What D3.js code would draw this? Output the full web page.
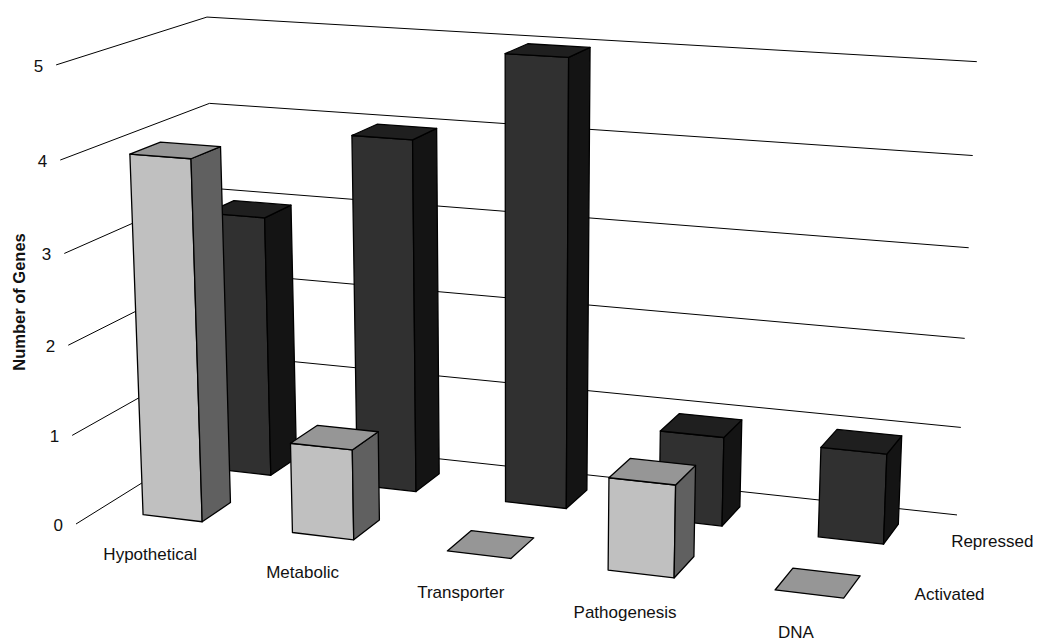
<!DOCTYPE html>
<html>
<head>
<meta charset="utf-8">
<script src="https://cdn.jsdelivr.net/npm/d3@7"></script>
<style>
  html, body { margin: 0; background: #fff; }
  svg { display: block; }
  text { font-family: "Liberation Sans", Arial, sans-serif; fill: #111; }
</style>
</head>
<body>
<svg id="chart" width="1039" height="641"></svg>
<script>
const categories = ["Hypothetical", "Metabolic", "Transporter", "Pathogenesis", "DNA"];
const seriesNames = ["Activated", "Repressed"];
const activated = [4, 1, 0, 1, 0];
const repressed = [3, 4, 5, 1, 1];
const valueTicks = [0, 1, 2, 3, 4, 5];

const seriesColors = {
  Activated: { front: "#c0c0c0", top: "#969696", side: "#606060" },
  Repressed: { front: "#303030", top: "#1f1f1f", side: "#141414" }
};

// Unit-cube coordinates along the three chart axes.
const uScale = d3.scaleBand().domain(categories).range([0, 1]).paddingInner(0.6).paddingOuter(0.3);
const dScale = d3.scaleBand().domain(seriesNames).range([0, 1]).paddingInner(0.6).paddingOuter(0.3);
const hScale = d3.scaleLinear().domain([0, 5]).range([0, 1]);

// Homogeneous camera: each row gives constant, u, depth and height terms.
const camX = [76, 727.9, 165.7, -22.3];
const camY = [524, 41.7, -44, -461.9];
const camW = [1, -0.0904, 0.10355, -0.04337];

function project(u, d, h) {
  const dot = r => r[0] + r[1] * u + r[2] * d + r[3] * h;
  const w = dot(camW);
  return [dot(camX) / w, dot(camY) / w];
}

const svg = d3.select("#chart");
const line = d3.line();
const closed = pts => line(pts) + "Z";

// Gridlines run along the left wall and then across the back wall.
svg.append("g").selectAll("path").data(valueTicks).join("path")
  .attr("fill", "none").attr("stroke", "#000").attr("stroke-width", 1)
  .attr("d", v => {
    const h = hScale(v);
    return line([project(0, 0, h), project(0, 1, h), project(1, 1, h)]);
  });

// Value tick labels sit just left of each gridline's front end.
svg.append("g").selectAll("text").data(valueTicks).join("text")
  .attr("text-anchor", "end").attr("font-size", 17)
  .attr("x", v => project(0, 0, hScale(v))[0] - 13)
  .attr("y", v => project(0, 0, hScale(v))[1] + 7)
  .text(v => v);

// Bars: the rear series is painted first so the front one overlaps it.
const rows = [
  { name: "Repressed", values: repressed },
  { name: "Activated", values: activated }
];
rows.forEach(row => {
  const colors = seriesColors[row.name];
  const d0 = dScale(row.name), d1 = d0 + dScale.bandwidth();
  const g = svg.append("g");
  categories.forEach((cat, i) => {
    const u0 = uScale(cat), u1 = u0 + uScale.bandwidth();
    const h = hScale(row.values[i]);
    const faces = [
      { fill: colors.front, pts: [[u0, d0, 0], [u1, d0, 0], [u1, d0, h], [u0, d0, h]] },
      { fill: colors.side, pts: [[u1, d0, 0], [u1, d1, 0], [u1, d1, h], [u1, d0, h]] },
      { fill: colors.top, pts: [[u0, d0, h], [u1, d0, h], [u1, d1, h], [u0, d1, h]] }
    ];
    faces.filter(f => h > 0 || f.fill === colors.top).forEach(f => {
      g.append("path")
        .attr("d", closed(f.pts.map(p => project(p[0], p[1], p[2]))))
        .attr("fill", f.fill)
        .attr("stroke", "#000")
        .attr("stroke-width", 1.3)
        .attr("stroke-linejoin", "round");
    });
  });
});

// Category names follow the front floor edge.
svg.append("g").selectAll("text").data(categories).join("text")
  .attr("text-anchor", "middle").attr("font-size", 17)
  .attr("x", c => project(uScale(c) + uScale.bandwidth() / 2, 0, 0)[0])
  .attr("y", c => project(uScale(c) + uScale.bandwidth() / 2, 0, 0)[1] + 27)
  .text(c => c);

// Series names follow the right floor edge.
svg.append("g").selectAll("text").data(seriesNames).join("text")
  .attr("text-anchor", "start").attr("font-size", 17)
  .attr("x", s => project(1, dScale(s) + dScale.bandwidth() / 2, 0)[0] + 11)
  .attr("y", s => project(1, dScale(s) + dScale.bandwidth() / 2, 0)[1] + 7)
  .text(s => s);

svg.append("text")
  .attr("transform", "translate(25,302) rotate(-90)")
  .attr("text-anchor", "middle")
  .attr("font-size", 16.5)
  .attr("font-weight", "bold")
  .text("Number of Genes");
</script>
</body>
</html>
